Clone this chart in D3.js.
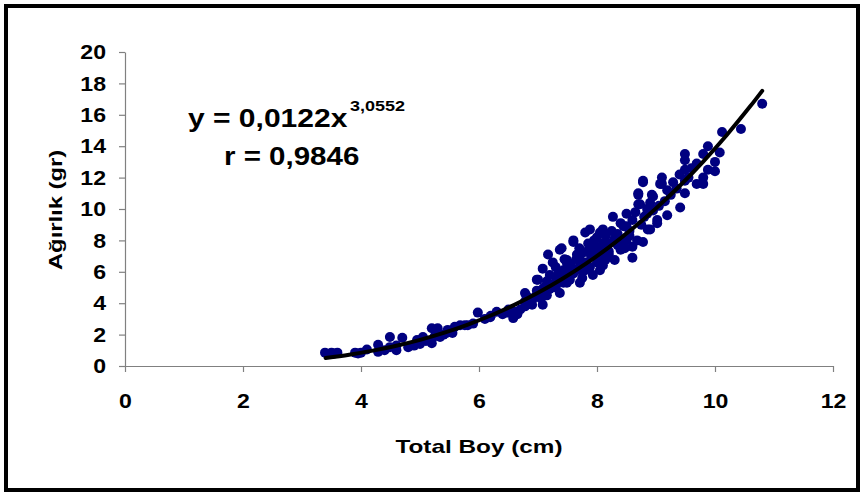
<!DOCTYPE html>
<html>
<head>
<meta charset="utf-8">
<script src="https://cdn.jsdelivr.net/npm/d3@7"></script>
<style>
  body { margin: 0; background: #fff; }
  svg text { font-family: "Liberation Sans", Arial, sans-serif; font-weight: bold; fill: #000; }
</style>
</head>
<body>
<svg id="chart" width="864" height="493"></svg>
<script>
// total length (cm) and weight (gr)
var boyCm = [3.39,3.5,3.6,3.55,3.9,4.0,3.95,4.29,4.29,4.49,4.49,4.7,4.8,4.95,5.05,5.2,5.2,5.3,5.34,5.47,5.59,5.76,5.68,5.81,4.6,4.4,5.1,5.0,5.4,5.55,5.9,5.98,6.19,6.3,6.47,6.58,6.6,6.65,6.78,6.78,6.78,6.8,6.98,6.98,7.08,7.08,7.07,7.0,7.15,7.2,7.17,7.29,7.32,7.37,7.37,7.4,7.43,7.43,7.49,7.49,7.49,7.54,7.54,7.6,7.6,7.66,7.71,7.71,7.75,7.8,7.83,7.88,7.88,7.93,7.93,8.0,8.05,8.05,8.1,8.1,8.14,8.17,8.2,8.27,8.3,8.4,8.47,8.5,8.5,8.5,8.6,8.6,8.68,8.7,8.7,8.7,8.73,8.78,8.78,8.78,8.85,8.86,8.9,8.9,8.93,8.95,9.02,9.02,9.07,9.1,9.1,9.19,9.19,9.29,9.41,9.49,9.49,9.49,9.49,9.49,9.69,9.69,9.8,9.8,9.8,9.88,9.88,10.0,10.0,10.08,10.12,10.44,10.8,
  7.3,7.35,7.45,7.55,7.6,7.65,7.7,7.75,7.8,7.85,7.9,7.95,8.0,8.0,8.05,8.1,8.15,8.2,8.25,8.3,8.35,8.4,8.45,8.55,8.6,8.65,8.75,8.8,8.85,8.95,9.05,9.15,9.25,9.35,9.4,9.55,9.6,7.25,7.1,7.2,6.9,6.95,7.05,6.7,6.5,6.4,6.2,6.1,7.3,7.5,7.7,7.9,8.1,8.3,8.5,
  7.4,7.6,7.8,8.0,8.2,8.4,7.15,7.35,7.55,7.75,7.95,8.15,8.35,8.55,6.85,6.9,7.0,5.25,5.45,4.9,4.1,4.6];
var agirlikGr = [0.85,0.85,0.85,0.8,0.85,0.85,0.8,1.35,0.9,1.85,1.2,1.8,1.2,1.65,1.85,2.4,1.45,2.4,1.85,2.3,2.5,2.6,2.6,2.6,1.0,1.0,1.6,1.4,2.0,2.1,2.7,3.4,3.1,3.45,3.4,3.05,3.45,3.3,3.8,4.1,4.65,4.5,4.8,5.5,3.9,6.2,4.85,5.5,4.5,5.8,7.1,5.3,5.7,4.65,7.4,7.5,6.1,5.3,6.75,6.55,5.3,5.5,6.0,7.9,8.0,7.1,5.3,6.3,5.6,8.5,7.3,8.7,6.3,7.6,5.8,6.9,8.5,6.1,7.8,8.7,6.75,7.6,7.8,9.5,6.75,9.1,7.5,9.7,8.9,8.2,6.9,7.6,8.0,10.9,11.0,10.3,10.3,11.7,11.8,7.9,9.7,8.7,10.4,8.7,10.9,10.8,9.1,9.3,11.6,12.0,11.6,11.2,9.6,11.7,10.1,13.5,13.1,12.5,11.8,11.0,12.9,11.6,13.5,12.0,11.6,14.0,12.5,13.0,12.4,13.6,14.9,15.1,16.7,
  6.3,5.9,6.8,6.5,5.9,6.8,7.5,6.0,6.6,7.8,7.0,8.0,7.5,8.2,7.2,6.4,8.3,7.1,8.6,7.9,8.4,7.4,8.9,8.6,9.3,9.8,9.0,9.5,10.0,9.9,10.2,10.5,10.9,11.3,12.2,12.0,12.6,6.6,5.0,4.9,4.2,4.4,4.3,3.6,3.6,3.3,3.2,3.0,5.0,5.9,6.9,7.3,7.4,8.1,8.0,
  5.6,6.2,6.1,6.6,7.3,7.9,5.4,5.5,6.3,7.2,7.8,7.0,7.7,8.3,4.3,3.9,4.6,1.9,2.1,1.3,1.05,1.3];

// power trendline shown on the chart: y = a * x^b, drawn from x 3.4 to 10.8
var fitA = 0.0122, fitB = 3.0552;
var fitXs = [3.4,3.8,4.2,4.6,5,5.4,5.8,6.2,6.6,7,7.4,7.8,8.2,8.6,9,9.4,9.8,10.2,10.6,10.8];

var xTicks = [0,2,4,6,8,10,12];
var yTicks = [0,2,4,6,8,10,12,14,16,18,20];

var svg = d3.select("#chart");

// the reference's lettering is wider than plain Arial, stretch it
function stretch(sel, k){
    sel.each(function(){
        var w = this.getComputedTextLength();
        d3.select(this).attr("textLength", w * k).attr("lengthAdjust", "spacingAndGlyphs");
    });
}

svg.append("rect")
    .attr("x", 6).attr("y", 6)
    .attr("width", 852).attr("height", 484)
    .attr("fill", "#fff")
    .attr("stroke", "#000")
    .attr("stroke-width", 4);

var x = d3.scaleLinear().domain([0, 12]).range([125, 833]);
var y = d3.scaleLinear().domain([0, 20]).range([366, 52]);

var xAxis = svg.append("g")
    .attr("transform", "translate(0,366)")
    .call(d3.axisBottom(x).tickValues(xTicks).tickSize(6).tickPadding(21).tickSizeOuter(0));
var yAxis = svg.append("g")
    .attr("transform", "translate(125,0)")
    .call(d3.axisLeft(y).tickValues(yTicks).tickSize(6).tickPadding(13).tickSizeOuter(0));

[xAxis, yAxis].forEach(function(g){
    g.select(".domain").attr("stroke", "#808080").attr("stroke-width", 1.2);
    g.selectAll(".tick line").attr("stroke", "#808080").attr("stroke-width", 1.2);
    g.selectAll(".tick text")
        .attr("font-family", "Liberation Sans, Arial, sans-serif")
        .attr("font-weight", "bold")
        .attr("font-size", 21)
        .attr("fill", "#000")
        .call(stretch, 1.1);
});

// points
svg.append("g").selectAll("circle")
    .data(boyCm.map(function(d, i){ return [d, agirlikGr[i]]; }))
    .enter().append("circle")
    .attr("cx", function(d){ return x(d[0]); })
    .attr("cy", function(d){ return y(d[1]); })
    .attr("r", 5)
    .attr("fill", "#000080");

// trendline
var line = d3.line()
    .x(function(d){ return x(d); })
    .y(function(d){ return y(fitA * Math.pow(d, fitB)); })
    .curve(d3.curveCatmullRom);
svg.append("path")
    .datum(fitXs)
    .attr("d", line)
    .attr("fill", "none")
    .attr("stroke", "#000")
    .attr("stroke-width", 4)
    .attr("stroke-linecap", "round");

// axis titles
svg.append("text")
    .attr("x", 479).attr("y", 453)
    .attr("text-anchor", "middle")
    .attr("font-size", 19)
    .text("Total Boy (cm)")
    .call(stretch, 1.28);
svg.append("text")
    .attr("transform", "translate(62,210) rotate(-90)")
    .attr("text-anchor", "middle")
    .attr("font-size", 19)
    .text("Ağırlık (gr)")
    .call(stretch, 1.25);

// equation
svg.append("text")
    .attr("x", 188).attr("y", 127)
    .attr("font-size", 25)
    .text("y = 0,0122x")
    .call(stretch, 1.2);
svg.append("text")
    .attr("x", 350).attr("y", 111)
    .attr("font-size", 15)
    .text("3,0552")
    .call(stretch, 1.2);
svg.append("text")
    .attr("x", 224).attr("y", 165)
    .attr("font-size", 25)
    .text("r = 0,9846")
    .call(stretch, 1.18);
</script>
</body>
</html>
